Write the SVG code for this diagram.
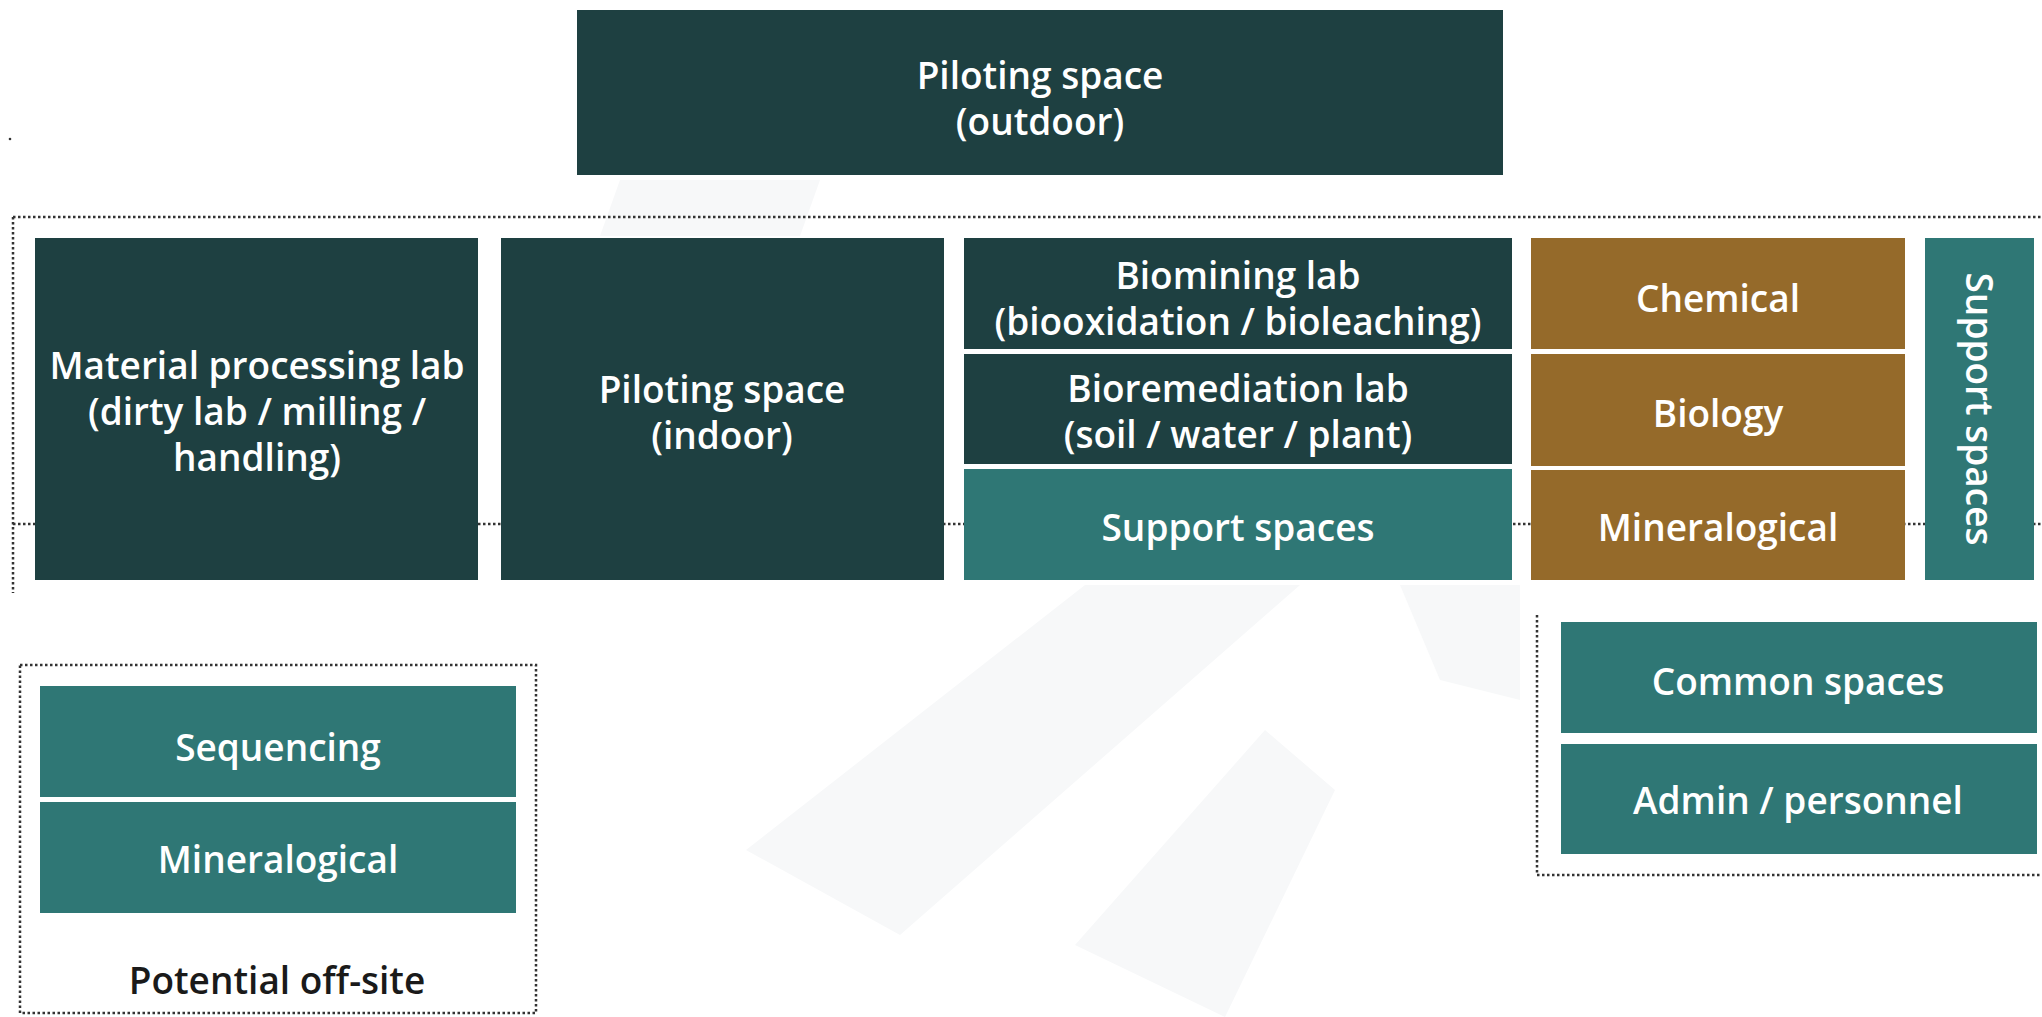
<svg xmlns="http://www.w3.org/2000/svg" width="2042" height="1017" viewBox="0 0 2042 1017">
<style>
.dark{fill:#1e4041}
.teal{fill:#2f7775}
.brown{fill:#956a2a}
.t{font-family:"Open Sans","Noto Sans","Liberation Sans",sans-serif;font-size:37px;font-weight:600;fill:#ffffff;text-anchor:middle;dominant-baseline:central}
.k{fill:#1a1a1a}
.dot{fill:none;stroke:#333333;stroke-width:2.5;stroke-dasharray:2.5 2.5}
.wm{fill:#f7f8f9}
</style>
<rect width="2042" height="1017" fill="#ffffff"/>
<g id="watermark">
<polygon class="wm" points="620,180 820,180 800,236 600,236"/>
<polygon class="wm" points="1085,585 1300,585 900,935 746,850"/>
<polygon class="wm" points="1265,730 1335,790 1225,1017 1075,945"/>
<polygon class="wm" points="1400,585 1520,585 1520,700 1440,680"/>
</g>
<g id="connectors">
<path class="dot" d="M13,217 H2042 M13,217 V593 M13,524 H2042"/>
<path class="dot" d="M1537,615 V875 H2042"/>
<rect class="dot" x="20" y="665" width="516" height="348"/>
<circle cx="10" cy="139" r="1.3" fill="#333333"/>
</g>
<g id="outdoor"><rect class="dark" x="577" y="10" width="926" height="165"/><text class="t" x="1040" y="74">Piloting space</text><text class="t" x="1040" y="120">(outdoor)</text></g>
<g id="material"><rect class="dark" x="35" y="238" width="443" height="342"/><text class="t" x="257" y="364">Material processing lab</text><text class="t" x="257" y="410">(dirty lab / milling /</text><text class="t" x="257" y="456">handling)</text></g>
<g id="indoor"><rect class="dark" x="501" y="238" width="443" height="342"/><text class="t" x="722" y="388">Piloting space</text><text class="t" x="722" y="434">(indoor)</text></g>
<g id="biomining"><rect class="dark" x="964" y="238" width="548" height="111"/><text class="t" x="1238" y="274">Biomining lab</text><text class="t" x="1238" y="320">(biooxidation / bioleaching)</text></g>
<g id="bioremediation"><rect class="dark" x="964" y="354" width="548" height="110"/><text class="t" x="1238" y="387">Bioremediation lab</text><text class="t" x="1238" y="433">(soil / water / plant)</text></g>
<g id="support1"><rect class="teal" x="964" y="469" width="548" height="111"/><text class="t" x="1238" y="526">Support spaces</text></g>
<g id="chemical"><rect class="brown" x="1531" y="238" width="374" height="111"/><text class="t" x="1718" y="297">Chemical</text></g>
<g id="biology"><rect class="brown" x="1531" y="354" width="374" height="112"/><text class="t" x="1718" y="412">Biology</text></g>
<g id="mineralogical1"><rect class="brown" x="1531" y="470" width="374" height="110"/><text class="t" x="1718" y="526">Mineralogical</text></g>
<g id="support2"><rect class="teal" x="1925" y="238" width="109" height="342"/><text class="t" transform="translate(1980,409) rotate(90)" x="0" y="0">Support spaces</text></g>
<g id="common"><rect class="teal" x="1561" y="622" width="476" height="111"/><text class="t" x="1798" y="680">Common spaces</text></g>
<g id="admin"><rect class="teal" x="1561" y="744" width="476" height="110"/><text class="t" x="1798" y="799">Admin / personnel</text></g>
<g id="sequencing"><rect class="teal" x="40" y="686" width="476" height="111"/><text class="t" x="278" y="746">Sequencing</text></g>
<g id="mineralogical2"><rect class="teal" x="40" y="802" width="476" height="111"/><text class="t" x="278" y="858">Mineralogical</text></g>
<g id="offsite"><text class="t k" x="277" y="979">Potential off-site</text></g>
</svg>
